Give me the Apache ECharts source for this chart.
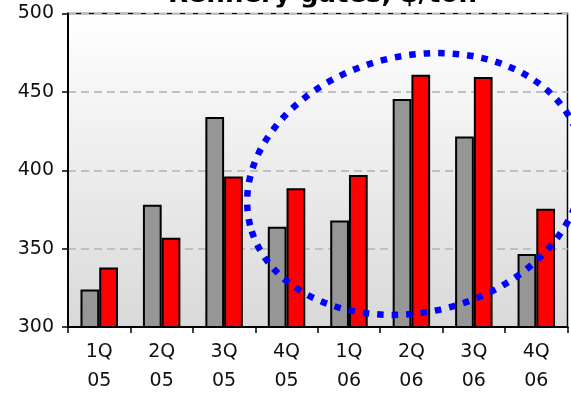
<!DOCTYPE html>
<html>
<head>
<meta charset="utf-8">
<script src="https://cdn.jsdelivr.net/npm/echarts@6/dist/echarts.min.js"></script>
<style>
html,body{margin:0;padding:0;background:#fff;}
#c{width:571px;height:396px;}
</style>
</head>
<body>
<div id="c"></div>
<script>
const title = 'Refinery gates, $/ton';
const categories = ['1Q\n05','2Q\n05','3Q\n05','4Q\n05','1Q\n06','2Q\n06','3Q\n06','4Q\n06'];
const grayValues = [324, 378, 434, 364, 368, 445.5, 421.5, 346.5];
const redValues  = [338, 357, 396, 388.5, 397, 461, 459.5, 375.5];
const yMin = 300, yMax = 500, yInterval = 50;

const chart = echarts.init(document.getElementById('c'), null, {renderer:'canvas'});
const FONT = 'DejaVu Sans';
chart.setOption({
  animation: false,
  backgroundColor: '#ffffff',
  grid: {
    left: 68, right: 3.5, top: 13.5, bottom: 67.7,
    show: true,
    borderColor: '#000', borderWidth: 1.5,
    backgroundColor: {type:'linear', x:0, y:0, x2:0, y2:1,
      colorStops:[{offset:0,color:'#ffffff'},{offset:1,color:'#d9d9d9'}]}
  },
  xAxis: {
    type: 'category',
    data: categories,
    axisLine: {lineStyle:{color:'#000', width:2}},
    axisTick: {show:true, length:6, lineStyle:{color:'#000', width:1.5}},
    axisLabel: {color:'#111', fontFamily:FONT, fontSize:19, lineHeight:29, margin:11}
  },
  yAxis: {
    type: 'value',
    min: yMin, max: yMax, interval: yInterval,
    axisLine: {show:true, lineStyle:{color:'#000', width:2}},
    axisTick: {show:true, length:6, lineStyle:{color:'#000', width:1.5}},
    axisLabel: {color:'#111', fontFamily:FONT, fontSize:19, margin:14},
    splitLine: {show:true, lineStyle:{color:'#c0c0c0', width:2, type:[8,5]}}
  },
  series: [
    {type:'bar', data: grayValues, barGap:'0%', barCategoryGap:'40%',
     itemStyle:{color:'#969696', borderColor:'#000', borderWidth:2}},
    {type:'bar', data: redValues, barGap:'0%', barCategoryGap:'40%',
     itemStyle:{color:'#ff0000', borderColor:'#000', borderWidth:2}}
  ],
  graphic: [
    {type:'text', left:168, top:-17.5, z:1,
     style:{text:title, fontFamily:FONT, fontWeight:'bold', fontSize:26, fill:'#000'}},
    {type:'rect', shape:{x:140, y:7.4, width:420, height:5.2}, z:2, style:{fill:'#fff'}},
    {type:'ellipse', x:415, y:184, rotation:0.246, z:100,
     shape:{cx:0, cy:0, rx:170, ry:128},
     style:{fill:'none', stroke:'#0000ff', lineWidth:6.5, lineDash:[6.5,8], lineCap:'butt'}}
  ]
});
</script>
</body>
</html>
